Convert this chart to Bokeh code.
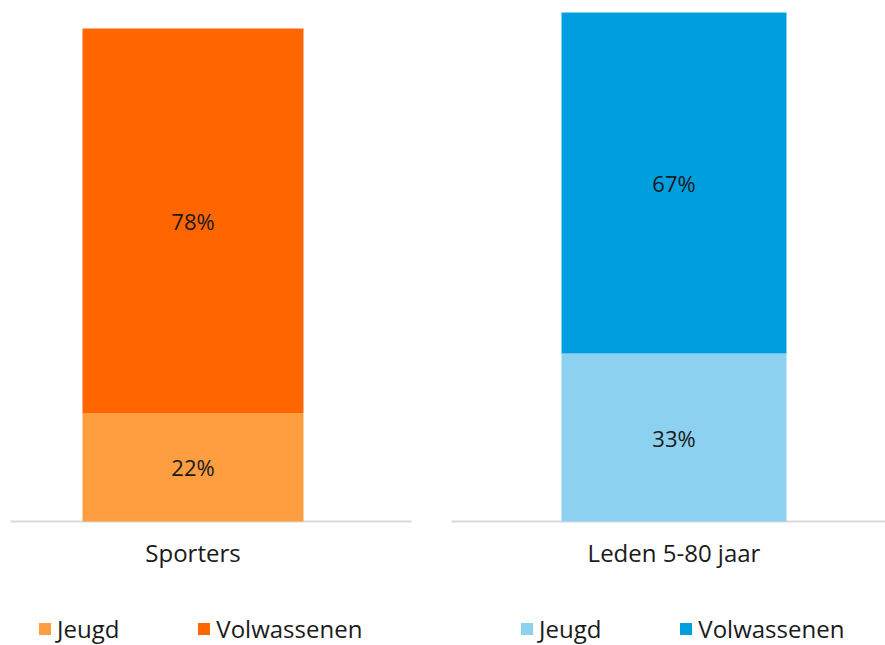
from bokeh.plotting import figure
from bokeh.layouts import row
from bokeh.models import Range1d, ColumnDataSource, Legend, LegendItem
from bokeh.embed import file_html
from bokeh.resources import INLINE
from bokeh.core.properties import value

# ---- data ----
categories = ["Sporters", "Leden 5-80 jaar"]
series = ["Jeugd", "Volwassenen"]
jeugd = [22, 33]
volwassenen = [78, 67]
palettes = [["#FF9E40", "#FF6600"], ["#8DD1F0", "#009FE0"]]

FONT = "Open Sans"
H = 645
BASE_FROM_TOP = 521

# layout per panel: (fig width, bar centre px, bar px width, px of 100% top from fig top,
#                    baseline x0 px, baseline x1 px, legend x px)
layouts = [
    (440, 192.5, 221, 28, 10, 411, 37),
    (445, 233.5, 225, 12, 11, 445, 79),
]

BAR_W = 0.6
figs = []
for i, cat in enumerate(categories):
    fw, cx, bw, top, bx0, bx1, lx = layouts[i]
    unit = bw / BAR_W
    ppu = (BASE_FROM_TOP - top) / 100.0
    below = H - BASE_FROM_TOP
    p = figure(width=fw, height=H, output_backend="svg", toolbar_location=None,
               x_range=Range1d(-cx / unit, (fw - cx) / unit),
               y_range=Range1d(-below / ppu, (H - below) / ppu),
               x_axis_location=None, y_axis_location=None,
               min_border=0, min_border_left=0, min_border_right=0,
               min_border_top=0, min_border_bottom=0)
    p.outline_line_color = None
    p.grid.visible = False
    p.background_fill_color = "white"

    # baseline
    p.segment(x0=[(bx0 - cx) / unit], x1=[(bx1 - cx) / unit], y0=[0], y1=[0],
              line_color="#D9D9D9", line_width=2)

    src = ColumnDataSource(dict(x=[0], Jeugd=[jeugd[i]], Volwassenen=[volwassenen[i]]))
    rs = p.vbar_stack(series, x="x", width=BAR_W, color=palettes[i], source=src,
                      line_color=None)

    # percentage labels
    vals = [jeugd[i], volwassenen[i]]
    mids = [vals[0] / 2.0, vals[0] + vals[1] / 2.0]
    tsrc = ColumnDataSource(dict(x=[0, 0], y=mids, t=[f"{v}%" for v in vals]))
    p.text(x="x", y="y", text="t", source=tsrc, text_align="center",
           text_baseline="middle", text_font=value(FONT), text_font_size="22px",
           text_color="#1a1a1a")

    # category label
    csrc = ColumnDataSource(dict(x=[0], y=[0], t=[cat]))
    p.text(x="x", y="y", text="t", source=csrc, text_align="center",
           text_baseline="middle", y_offset=31, text_font=value(FONT),
           text_font_size="24px", text_color="#1a1a1a")

    legend = Legend(items=[LegendItem(label=s, renderers=[r]) for s, r in zip(series, rs)],
                    orientation="horizontal", location=(lx, 0))
    legend.glyph_width = 15
    legend.glyph_height = 15
    legend.label_standoff = 5
    legend.spacing = 77
    legend.padding = 0
    legend.margin = 0
    legend.border_line_color = None
    legend.background_fill_alpha = 0
    legend.label_text_font = FONT
    legend.label_text_font_size = "24px"
    legend.label_text_color = "#1a1a1a"
    p.add_layout(legend, "center")
    figs.append(p)

layout = row(*figs)
open("out.html", "w").write(file_html(layout, INLINE))
